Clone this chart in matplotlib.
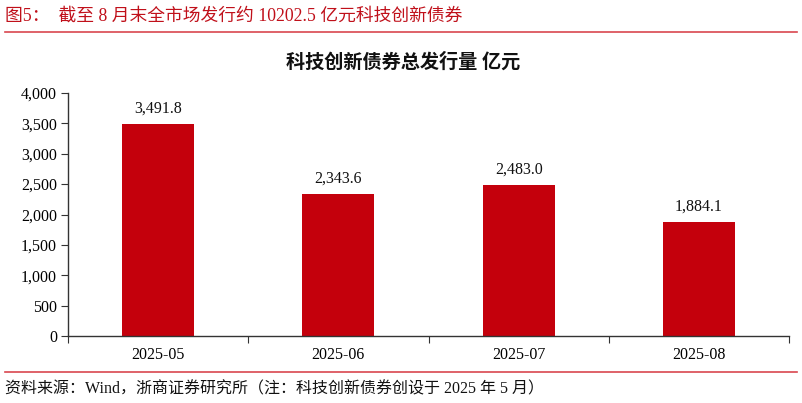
import matplotlib
matplotlib.use("Agg")
import matplotlib.pyplot as plt
from matplotlib.lines import Line2D

categories = ["2025-05", "2025-06", "2025-07", "2025-08"]
values = [3491.8, 2343.6, 2483.0, 1884.1]
yticks = [0, 500, 1000, 1500, 2000, 2500, 3000, 3500, 4000]

header = "图5：  截至 8 月末全市场发行约 10202.5 亿元科技创新债券"
chart_title = "科技创新债券总发行量 亿元"
footer = "资料来源：Wind，浙商证券研究所（注：科技创新债券创设于 2025 年 5 月）"

FAM = ["Liberation Serif", "Noto Sans CJK SC", "DejaVu Sans"]
plt.rcParams["font.family"] = FAM

W, H = 802, 403
fig = plt.figure(figsize=(W / 100, H / 100), dpi=100)

x0, x1 = 68, 789
ybot, ytop = 336, 93
ax = fig.add_axes([x0 / W, (H - ybot) / H, (x1 - x0) / W, (ybot - ytop) / H])

bar_color = "#C4000C"
xs = list(range(len(categories)))
ax.bar(xs, values, width=0.4, color=bar_color)
for x, v in zip(xs, values):
    ax.text(x, v + 120, f"{v:,.1f}", ha="center", va="bottom", fontsize=11.5,
            family=FAM, color="#111111")

ax.set_xlim(-0.5, len(categories) - 0.5)
ax.set_ylim(0, 4000)
ax.set_yticks(yticks)
ax.set_yticklabels([f"{t:,}" for t in yticks], fontsize=11.5)
ax.set_xticks([i - 0.5 for i in range(len(categories) + 1)])
ax.set_xticklabels([])
ax.set_xticks(xs, minor=True)
ax.set_xticklabels(categories, minor=True, fontsize=11.5)
ax.tick_params(axis="x", which="major", direction="out", length=5, color="#333333")
ax.tick_params(axis="x", which="minor", length=0, pad=8)
ax.tick_params(axis="y", direction="out", length=5, color="#333333", pad=3)
for s in ["top", "right"]:
    ax.spines[s].set_visible(False)
for s in ["left", "bottom"]:
    ax.spines[s].set_color("#333333")
    ax.spines[s].set_linewidth(1.0)

# header
fig.text(5 / W, 1 - 16 / H, header, fontsize=12.8, color="#C0101A", va="center", ha="left", family=FAM)
fig.add_artist(Line2D([5 / W, 797 / W], [1 - 32 / H, 1 - 32 / H], color="#D9474F", lw=1.2))
# chart title
fig.text(403 / W, 1 - 62 / H, chart_title, fontsize=13.8, fontweight="bold", color="#111111",
         va="center", ha="center", family=FAM)
# bottom line & footer
fig.add_artist(Line2D([5 / W, 797 / W], [1 - 372 / H, 1 - 372 / H], color="#D9474F", lw=1.2))
fig.text(5 / W, 1 - 389 / H, footer, fontsize=11.5, color="#111111", va="center", ha="left", family=FAM)

fig.savefig("out.png", dpi=100)
